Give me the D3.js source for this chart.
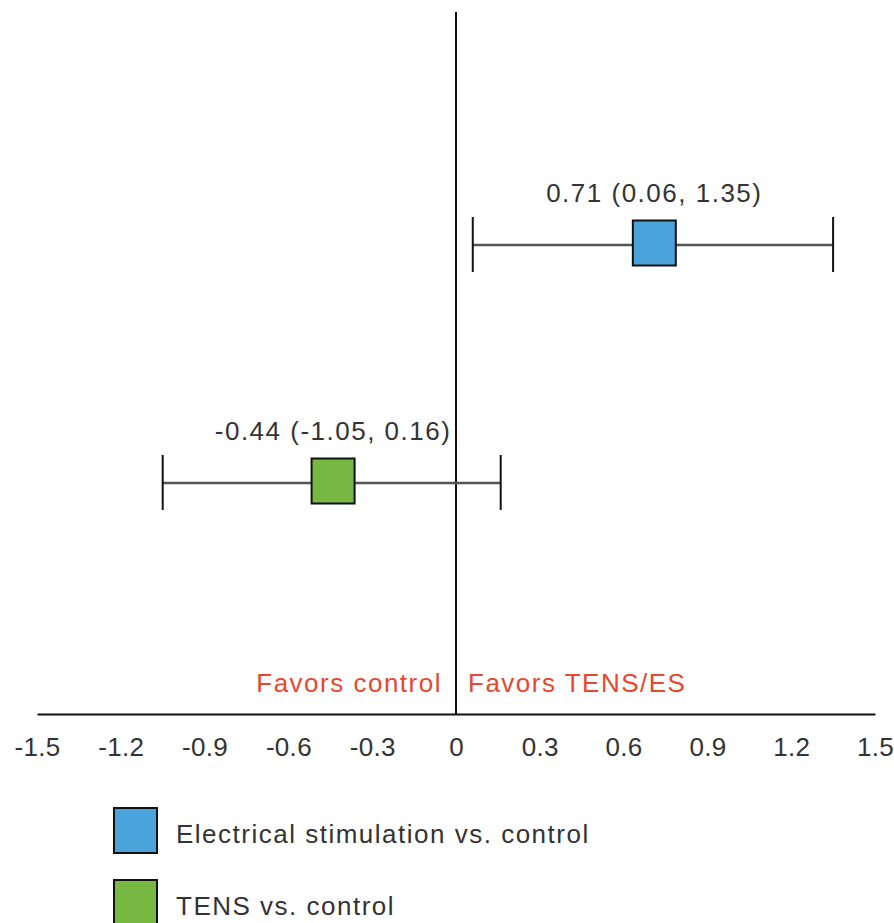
<!DOCTYPE html>
<html>
<head>
<meta charset="utf-8">
<script src="https://cdn.jsdelivr.net/npm/d3@7"></script>
<style>
  html, body { margin: 0; padding: 0; background: #fff; }
  svg { display: block; font-family: "Liberation Sans", Arial, sans-serif; }
  svg text { letter-spacing: 1.5px; }
  svg .tick text { letter-spacing: 0.3px; }
</style>
</head>
<body>
<div id="chart"></div>
<script>
// data
const comparisons = ["Electrical stimulation vs. control", "TENS vs. control"];
const estimates = [0.71, -0.44];
const lowerCI = [0.06, -1.05];
const upperCI = [1.35, 0.16];
const colors = ["#4aa3da", "#77b843"];
const tickValues = [-1.5, -1.2, -0.9, -0.6, -0.3, 0, 0.3, 0.6, 0.9, 1.2, 1.5];
const favorLeft = "Favors control";
const favorRight = "Favors TENS/ES";

const width = 894, height = 923;
const axisY = 714;
const fs = 26;

const svg = d3.select("#chart").append("svg")
    .attr("width", width)
    .attr("height", height);

const x = d3.scaleLinear().domain([-1.5, 1.5]).range([37, 875]);
const y = d3.scalePoint().domain(comparisons).range([245, 483]);

const fmt = v => v.toFixed(2);

// x axis
const xAxis = svg.append("g")
    .attr("transform", `translate(0,${axisY})`)
    .call(d3.axisBottom(x).tickValues(tickValues).tickSize(0).tickPadding(24)
        .tickFormat(d => d === 0 ? "0" : d.toFixed(1)));
xAxis.select(".domain").attr("stroke", "#111").attr("stroke-width", 2);
xAxis.selectAll("text")
    .attr("font-size", fs)
    .attr("fill", "#333")
    .attr("font-family", "Liberation Sans, Arial, sans-serif");

// zero line
svg.append("line")
    .attr("x1", x(0)).attr("x2", x(0))
    .attr("y1", 12).attr("y2", axisY)
    .attr("stroke", "#111").attr("stroke-width", 2);

// favours labels
svg.append("text")
    .attr("x", x(0) - 14).attr("y", 692)
    .attr("text-anchor", "end")
    .attr("font-size", fs).attr("fill", "#e8472f")
    .text(favorLeft);
svg.append("text")
    .attr("x", x(0) + 12).attr("y", 692)
    .attr("font-size", fs).attr("fill", "#e8472f")
    .text(favorRight);

const rows = comparisons.map((c, i) => ({
  name: c, est: estimates[i], lo: lowerCI[i], hi: upperCI[i], color: colors[i]
}));

const g = svg.selectAll("g.row").data(rows).enter().append("g").attr("class", "row");

// CI line
g.append("line")
    .attr("x1", d => x(d.lo)).attr("x2", d => x(d.hi))
    .attr("y1", d => y(d.name)).attr("y2", d => y(d.name))
    .attr("stroke", "#555").attr("stroke-width", 2.5);

// caps
g.append("line")
    .attr("x1", d => x(d.lo)).attr("x2", d => x(d.lo))
    .attr("y1", d => y(d.name) - 28).attr("y2", d => y(d.name) + 27)
    .attr("stroke", "#111").attr("stroke-width", 2);
g.append("line")
    .attr("x1", d => x(d.hi)).attr("x2", d => x(d.hi))
    .attr("y1", d => y(d.name) - 28).attr("y2", d => y(d.name) + 27)
    .attr("stroke", "#111").attr("stroke-width", 2);

// point estimate box
const bw = 43, bh = 45;
g.append("rect")
    .attr("x", d => x(d.est) - bw / 2)
    .attr("y", d => y(d.name) - bh / 2 - 2)
    .attr("width", bw).attr("height", bh)
    .attr("fill", d => d.color)
    .attr("stroke", "#111").attr("stroke-width", 2);

// estimate labels
g.append("text")
    .attr("x", d => x(d.est))
    .attr("y", d => y(d.name) - 43)
    .attr("text-anchor", "middle")
    .attr("font-size", fs).attr("fill", "#333")
    .text(d => `${fmt(d.est)} (${fmt(d.lo)}, ${fmt(d.hi)})`);

// legend
const legend = svg.selectAll("g.legend").data(rows).enter().append("g")
    .attr("class", "legend")
    .attr("transform", (d, i) => `translate(114,${808 + i * 72})`);
legend.append("rect")
    .attr("width", bw).attr("height", bh)
    .attr("fill", d => d.color)
    .attr("stroke", "#111").attr("stroke-width", 2);
legend.append("text")
    .attr("x", 62).attr("y", 35)
    .attr("font-size", fs).attr("fill", "#333")
    .text(d => d.name);
</script>
</body>
</html>
